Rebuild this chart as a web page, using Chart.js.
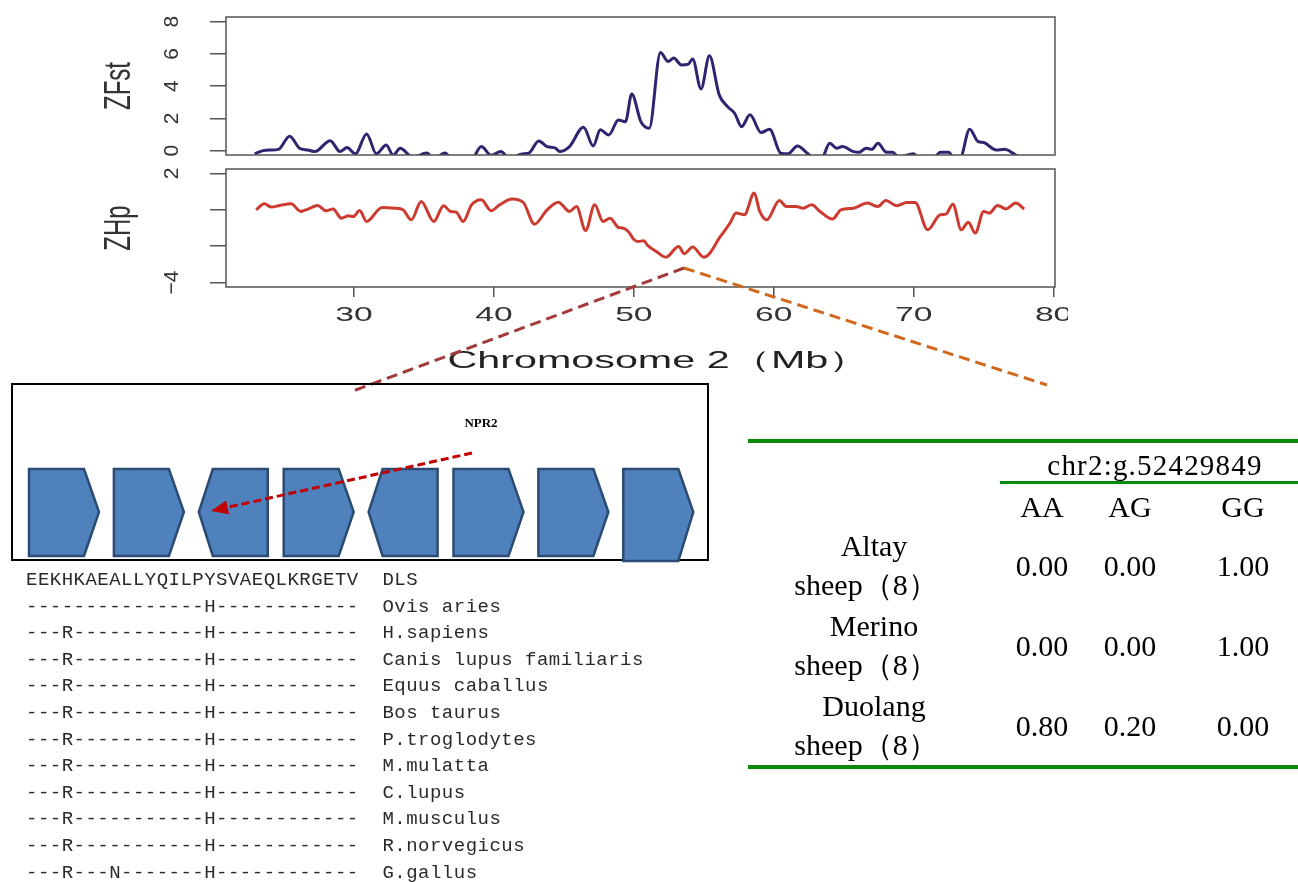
<!DOCTYPE html>
<html>
<head>
<meta charset="utf-8">
<script src="https://cdn.jsdelivr.net/npm/chart.js@4.4.0/dist/chart.umd.min.js"></script>
<style>
  body { margin: 0; background: #fff; width: 1298px; height: 882px; position: relative; overflow: hidden; }
  canvas { position: absolute; left: 0; }
  #zfst { top: 0; }
  #zhp { top: 160px; }
  #overlay { position: absolute; left: 0; top: 0; pointer-events: none; }
  .aln { position: absolute; left: 26px; font-family: 'Liberation Mono', monospace; font-size: 19px; letter-spacing: 0.48px; color: #2a2a2a; white-space: pre; line-height: 1; transform: translateY(-50%); }
  .cell { position: absolute; font-family: 'Liberation Serif', 'Times New Roman', serif; font-size: 30px; color: #000; white-space: nowrap; line-height: 1; transform: translate(-50%, -50%); }
  .rule { position: absolute; background: #0a8a0a; }
</style>
</head>
<body>
<canvas id="zfst" width="1100" height="162" style="width:1100px;height:162px"></canvas>
<canvas id="zhp" width="1068" height="230" style="width:1068px;height:230px"></canvas>
<svg id="overlay" width="1298" height="882"></svg>
<div id="extra"></div>
<script>
// ---- ZFst (top panel) ----
const zfstPos = [22.9, 23.5, 24.0, 24.6, 25.4, 26.1, 26.7, 27.2, 28.3, 29.0, 29.5, 30.1, 30.9, 31.6, 32.3, 32.8, 33.3, 34.2, 35.2, 35.7,
  36.5, 37.0, 38.4, 39.1, 39.8, 40.5, 41.1, 42.0, 42.5, 43.2, 43.8, 44.4, 44.7, 45.4, 46.4, 47.1, 47.6, 48.2, 48.9, 49.4,
  49.85, 50.5, 51.1, 51.9, 52.45, 52.85, 53.4, 53.9, 54.2, 54.8, 55.4, 56.1, 56.7, 57.2, 57.7, 58.3, 59.1, 59.7, 60.5, 61.0,
  61.7, 62.4, 62.9, 63.4, 64.0, 64.5, 64.9, 65.7, 66.1, 66.6, 67.0, 67.45, 68.05, 68.5, 68.9, 70.0, 70.4, 71.4, 71.9, 72.5,
  72.9, 73.3, 74.0, 74.6, 75.0, 75.9, 76.5, 77.3, 77.6];
const zfstVal = [-0.2, 0.0, 0.04, 0.08, 0.9, 0.15, 0.04, -0.06, 0.62, -0.06, 0.19, -0.2, 1.04, -0.2, 0.35, -0.3, 0.15, -0.4, -0.15, -0.5,
  -0.15, -0.5, -0.5, 0.25, -0.3, -0.06, -0.5, -0.2, -0.15, 0.6, 0.25, 0.15, -0.06, 0.25, 1.45, 0.29, 1.29, 0.97, 1.9, 1.8,
  3.52, 1.8, 1.39, 6.09, 5.53, 5.74, 5.32, 5.37, 5.68, 3.83, 5.88, 3.46, 2.73, 2.32, 1.49, 2.22, 1.12, 1.33, -0.16, -0.2,
  0.29, -0.16, -0.5, -0.5, 0.46, 0.15, 0.25, -0.06, -0.1, 0.15, 0.08, 0.46, -0.1, -0.1, -0.4, -0.2, -0.5, -0.5, -0.1, -0.1,
  -0.5, -0.5, 1.33, 0.56, 0.5, 0.04, 0.08, -0.27, -0.4];

// ---- ZHp (bottom panel) ----
const zhpPos = [23.0, 23.6, 24.1, 24.7, 25.5, 26.2, 26.7, 27.4, 28.0, 28.5, 29.1, 29.6, 29.95, 30.4, 30.9, 32.0, 32.9, 33.5, 34.1, 34.8,
  35.7, 36.4, 36.9, 37.3, 37.8, 38.4, 39.1, 39.8, 40.4, 41.3, 42.1, 42.9, 43.8, 44.6, 45.4, 45.9, 46.55, 47.2, 47.8, 48.3,
  48.9, 49.2, 49.6, 50.0, 50.3, 50.7, 51.0, 51.6, 52.3, 53.2, 53.6, 54.2, 55.0, 55.4, 56.1, 56.9, 57.3, 57.9, 58.6, 59.0,
  59.5, 60.4, 60.9, 61.6, 62.1, 62.7, 63.3, 64.2, 64.8, 65.7, 66.7, 67.45, 68.0, 68.8, 69.5, 70.1, 71.0, 71.9, 72.3, 72.8,
  73.4, 73.9, 74.4, 75.0, 75.4, 76.0, 76.6, 77.3, 77.9];
const zhpVal = [0.0, 0.33, 0.15, 0.24, 0.33, -0.09, 0.04, 0.24, -0.05, 0.04, -0.46, -0.33, -0.37, -0.04, -0.64, 0.13, 0.09, 0.0, -0.55, 0.46,
  -0.64, 0.22, -0.09, -0.13, -0.64, 0.27, 0.55, -0.05, 0.27, 0.59, 0.4, -0.79, 0.0, 0.42, -0.09, 0.18, -1.14, 0.27, -0.64, -0.46,
  -0.97, -1.0, -1.19, -1.63, -1.74, -1.7, -1.97, -2.29, -2.6, -2.01, -2.41, -2.05, -2.6, -2.41, -1.56, -0.7, -0.18, -0.27, 0.92, -0.09,
  -0.55, 0.51, 0.18, 0.18, 0.09, 0.27, -0.09, -0.51, 0.0, 0.09, 0.37, 0.18, 0.51, 0.22, 0.4, 0.4, -1.1, -0.27, -0.24, 0.31,
  -1.1, -0.68, -1.28, -0.09, -0.18, 0.24, 0.05, 0.37, 0.04];

const xTicks = [30, 40, 50, 60, 70, 80];
const zfstTicks = [0, 2, 4, 6, 8];
const zhpTicks = [-4, -3, -2, -1, 0, 1, 2];
const zhpLabelled = [2, -1, -4];

// ---- gene track and alignment ----
const geneStrand = ['+', '+', '-', '+', '-', '+', '+', '+'];
const alnSeqs = [
  'EEKHKAEALLYQILPYSVAEQLKRGETV',
  '---------------H------------',
  '---R-----------H------------',
  '---R-----------H------------',
  '---R-----------H------------',
  '---R-----------H------------',
  '---R-----------H------------',
  '---R-----------H------------',
  '---R-----------H------------',
  '---R-----------H------------',
  '---R-----------H------------',
  '---R---N-------H------------'
];
const alnSpecies = ['DLS', 'Ovis aries', 'H.sapiens', 'Canis lupus familiaris', 'Equus caballus', 'Bos taurus',
  'P.troglodytes', 'M.mulatta', 'C.lupus', 'M.musculus', 'R.norvegicus', 'G.gallus'];

// ---- genotype frequency table ----
const populations = ['Altay', 'Merino', 'Duolang'];
const genotypes = ['AA', 'AG', 'GG'];
const freqAA = [0.00, 0.00, 0.80];
const freqAG = [0.00, 0.00, 0.20];
const freqGG = [1.00, 1.00, 0.00];

// box round the plotting region, like R's box()
const frame = {
  id: 'frame',
  afterDraw(chart) {
    const { ctx, chartArea: a } = chart;
    ctx.save();
    ctx.strokeStyle = '#555';
    ctx.lineWidth = 1.5;
    ctx.strokeRect(a.left, a.top, a.right - a.left, a.bottom - a.top);
    ctx.restore();
  }
};

// the R device text is wide: stretch glyphs horizontally
const stretch = {
  id: 'stretch',
  beforeDraw(chart, args, opts) {
    const ctx = chart.ctx;
    if (ctx.__stretched) return;
    const fill = ctx.fillText;
    ctx.fillText = function (text, x, y) {
      const m = this.getTransform();
      const rotated = Math.abs(m.b) > 0.5;
      const long = String(text).length > 6;
      this.save();
      this.translate(x, y);
      if (rotated) {
        if (String(text).length > 2) this.scale(1, opts.y);
      } else if (long) {
        this.translate(opts.titleShift, 0);
        this.scale(opts.title, 1);
      } else {
        this.scale(opts.x, 1);
      }
      fill.call(this, text, 0, 0);
      this.restore();
    };
    ctx.__stretched = true;
  }
};

function fixWidth(w) {
  return s => { s.width = w; s.paddingTop = 0; s.paddingBottom = 0; s.paddingLeft = 0; s.paddingRight = 0; };
}
function fixHeight(h) {
  return s => { s.height = h; s.paddingTop = 0; s.paddingBottom = 0; s.paddingLeft = 0; s.paddingRight = 0; };
}
function toPoints(xs, ys) {
  return xs.map((x, i) => ({ x: x, y: ys[i] }));
}

const tickFont = { family: 'Liberation Sans', size: 21 };
const titleFont = { family: 'Liberation Sans', size: 24 };
const stretchOpts = { x: 1.6, y: 1.5, title: 1.72, titleShift: 18 };

new Chart(document.getElementById('zfst'), {
  type: 'line',
  data: {
    datasets: [{
      data: toPoints(zfstPos, zfstVal),
      borderColor: '#2e2470',
      borderWidth: 3,
      pointRadius: 0,
      cubicInterpolationMode: 'monotone',
      clip: 0
    }]
  },
  options: {
    responsive: false,
    animation: false,
    events: [],
    layout: { padding: { top: 17, right: 45, bottom: 7, left: 0 } },
    plugins: { legend: { display: false }, tooltip: { enabled: false }, stretch: stretchOpts },
    scales: {
      x: { type: 'linear', min: 20.85, max: 80.1, display: false },
      y: {
        min: -0.27, max: 8.29,
        afterBuildTicks: s => { s.ticks = zfstTicks.map(v => ({ value: v })); },
        afterFit: fixWidth(226),
        grid: { drawOnChartArea: false, tickLength: 16, color: '#555', lineWidth: 1.5 },
        border: { display: false },
        ticks: { minRotation: 90, maxRotation: 90, crossAlign: 'center', padding: 32, font: tickFont, color: '#333' },
        title: { display: true, text: 'ZFst', font: titleFont, color: '#333', padding: { top: 105.6, bottom: 0 } }
      }
    }
  },
  plugins: [frame, stretch]
});

new Chart(document.getElementById('zhp'), {
  type: 'line',
  data: {
    datasets: [{
      data: toPoints(zhpPos, zhpVal),
      borderColor: '#cd3b30',
      borderWidth: 3,
      pointRadius: 0,
      cubicInterpolationMode: 'monotone',
      clip: 0
    }]
  },
  options: {
    responsive: false,
    animation: false,
    events: [],
    layout: { padding: { top: 9, right: 13, bottom: 0, left: 0 } },
    plugins: { legend: { display: false }, tooltip: { enabled: false }, stretch: stretchOpts },
    scales: {
      x: {
        type: 'linear', min: 20.85, max: 80.1,
        afterBuildTicks: s => { s.ticks = xTicks.map(v => ({ value: v })); },
        afterFit: fixHeight(103),
        grid: { drawOnChartArea: false, tickLength: 10, color: '#555', lineWidth: 1.5 },
        border: { display: false },
        ticks: { minRotation: 0, maxRotation: 0, autoSkip: false, padding: 6, font: { family: 'Liberation Sans', size: 21 }, color: '#333' },
        title: { display: true, text: 'Chromosome 2（Mb）', font: titleFont, color: '#222', padding: { top: 0, bottom: 14.6 } }
      },
      y: {
        min: -4.24, max: 2.24,
        afterBuildTicks: s => { s.ticks = zhpTicks.map(v => ({ value: v })); },
        afterFit: fixWidth(226),
        grid: { drawOnChartArea: false, tickLength: 16, color: '#555', lineWidth: 1.5 },
        border: { display: false },
        ticks: {
          minRotation: 90, maxRotation: 90, crossAlign: 'center', padding: 26, font: tickFont, color: '#333',
          callback: v => zhpLabelled.includes(v) ? (v < 0 ? '\u2212' + (-v) : String(v)) : ''
        },
        title: { display: true, text: 'ZHp', font: titleFont, color: '#333', padding: { top: 105.6, bottom: 0 } }
      }
    }
  },
  plugins: [frame, stretch]
});

// ---- overlay: zoom connectors, gene track, arrow ----
const NS = 'http://www.w3.org/2000/svg';
const svg = document.getElementById('overlay');
function el(name, attrs, text) {
  const e = document.createElementNS(NS, name);
  for (const k in attrs) e.setAttribute(k, attrs[k]);
  if (text) e.textContent = text;
  svg.appendChild(e);
  return e;
}

el('line', { x1: 684, y1: 268, x2: 353, y2: 391, stroke: '#a33a3a', 'stroke-width': 3, 'stroke-dasharray': '11 6' });
el('line', { x1: 684, y1: 268, x2: 1047, y2: 385, stroke: '#d2681e', 'stroke-width': 3, 'stroke-dasharray': '11 6' });

el('rect', { x: 12, y: 384, width: 696, height: 176, fill: 'none', stroke: '#000', 'stroke-width': 2 });

geneStrand.forEach((strand, i) => {
  const x0 = 29 + i * 84.9;
  const top = 469, bot = (i === geneStrand.length - 1) ? 561 : 556, mid = 512;
  let pts;
  if (strand === '+') {
    pts = [[x0, top], [x0 + 55, top], [x0 + 70, mid], [x0 + 55, bot], [x0, bot]];
  } else {
    pts = [[x0, mid], [x0 + 14, top], [x0 + 69, top], [x0 + 69, bot], [x0 + 14, bot]];
  }
  el('polygon', { points: pts.map(p => p.join(',')).join(' '), fill: '#4f81bd', stroke: '#2b4b72', 'stroke-width': 2.5 });
});

// NPR2 arrow
(function () {
  const sx = 472, sy = 453, tx = 211, ty = 511;
  const dx = tx - sx, dy = ty - sy, len = Math.hypot(dx, dy);
  const ux = dx / len, uy = dy / len;
  const hl = 17, hw = 7;
  const bx = tx - ux * hl, by = ty - uy * hl;
  el('line', { x1: sx, y1: sy, x2: bx, y2: by, stroke: '#c00000', 'stroke-width': 3, 'stroke-dasharray': '8 4' });
  el('polygon', {
    points: [[tx, ty], [bx - uy * hw, by + ux * hw], [bx + uy * hw, by - ux * hw]].map(p => p.join(',')).join(' '),
    fill: '#c00000'
  });
})();
el('text', { x: 481, y: 427, 'text-anchor': 'middle', 'font-family': 'Liberation Serif', 'font-weight': 'bold', 'font-size': 13, fill: '#000' }, 'NPR2');

// ---- alignment and table ----
const extra = document.getElementById('extra');
function addDiv(cls, html, style) {
  const d = document.createElement('div');
  d.className = cls;
  d.textContent = html;
  Object.assign(d.style, style);
  extra.appendChild(d);
  return d;
}

alnSeqs.forEach((seq, i) => {
  addDiv('aln', seq + '  ' + alnSpecies[i], { top: (580 + i * 26.6) + 'px' });
});

addDiv('rule', '', { left: '748px', top: '439px', width: '550px', height: '4px' });
addDiv('rule', '', { left: '1000px', top: '481px', width: '298px', height: '3px' });
addDiv('rule', '', { left: '748px', top: '765px', width: '550px', height: '4px' });

addDiv('cell', 'chr2:g.52429849', { left: '1155px', top: '465px', fontSize: '29px', letterSpacing: '1.2px' });
const colX = [1042, 1130, 1243];
genotypes.forEach((g, j) => addDiv('cell', g, { left: colX[j] + 'px', top: '507px' }));

const freqCols = [freqAA, freqAG, freqGG];
populations.forEach((p, i) => {
  const rowY = 565 + i * 80;
  addDiv('cell', p, { left: '874px', top: (rowY - 19) + 'px' });
  addDiv('cell', 'sheep（8）', { left: '866px', top: (rowY + 20) + 'px' });
  freqCols.forEach((col, j) => addDiv('cell', col[i].toFixed(2), { left: colX[j] + 'px', top: (rowY + 1) + 'px' }));
});
</script>
</body>
</html>
